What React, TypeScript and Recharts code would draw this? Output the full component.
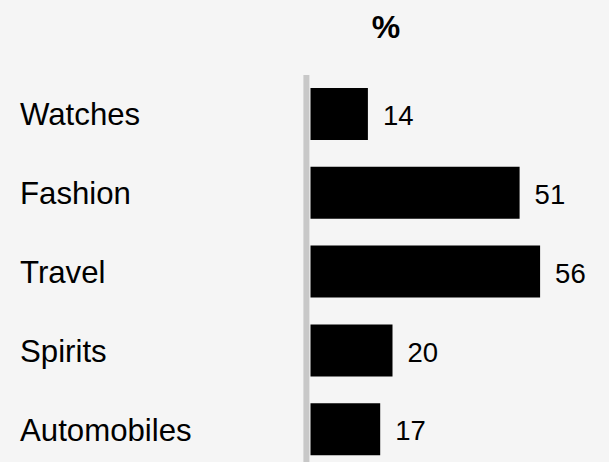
import React from 'react';
import { BarChart, Bar, XAxis, YAxis, LabelList } from 'recharts';

const categories = ['Watches', 'Fashion', 'Travel', 'Spirits', 'Automobiles'];
const shares = [14, 51, 56, 20, 17];
const unitLabel = '%';

const data = categories.map((name, i) => ({ name, value: shares[i] }));

const FONT = '"Liberation Sans", Arial, Helvetica, sans-serif';

const renderTick = (props: any) => {
  const { y, payload } = props;
  return (
    <text x={20} y={y} dy="0.355em" textAnchor="start" fontSize={31.2} fontFamily={FONT} fill="#000">
      {payload.value}
    </text>
  );
};

const renderLabel = (props: any) => {
  const { x, y, width, height, value } = props;
  return (
    <text
      x={Number(x) + Number(width) + 15}
      y={Number(y) + Number(height) / 2 + 1.5}
      dy="0.355em"
      fontSize={27.5}
      fontFamily={FONT}
      fill="#000"
    >
      {value}
    </text>
  );
};

export default function App() {
  return (
    <div
      style={{
        position: 'fixed',
        left: 0,
        top: 0,
        width: 609,
        height: 462,
        background: '#f5f5f5',
        overflow: 'hidden',
      }}
    >
      <BarChart
        width={609}
        height={469}
        layout="vertical"
        data={data}
        margin={{ top: 75, right: 11.5, bottom: 0, left: 0 }}
        barSize={52}
      >
        <XAxis type="number" domain={[-1, 70]} hide />
        <YAxis
          type="category"
          dataKey="name"
          width={306.4}
          axisLine={{ stroke: '#c8c8c8', strokeWidth: 6 }}
          tickLine={false}
          tick={renderTick}
        />
        <Bar dataKey="value" fill="#000" isAnimationActive={false}>
          <LabelList dataKey="value" content={renderLabel} />
        </Bar>
      </BarChart>
      <svg style={{ position: 'absolute', left: 0, top: 0 }} width={609} height={60}>
        <text x={386} y={37.5} textAnchor="middle" fontWeight="bold" fontSize={32} fontFamily={FONT} fill="#000">
          {unitLabel}
        </text>
      </svg>
    </div>
  );
}
